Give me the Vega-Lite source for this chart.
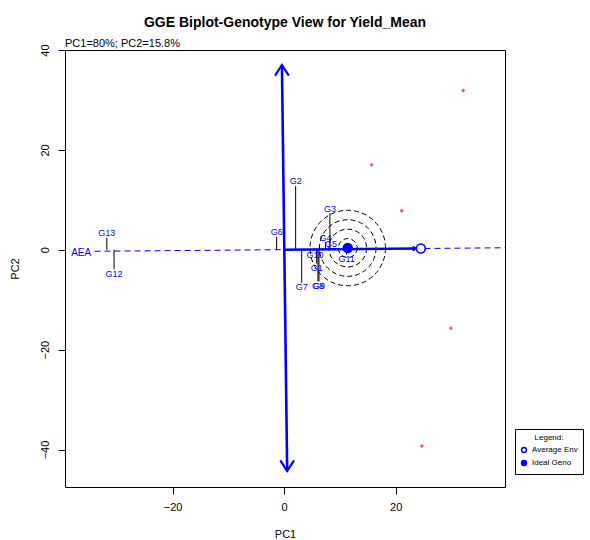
{
  "$schema": "https://vega.github.io/schema/vega-lite/v6.json",
  "autosize": {"type": "none"},
  "padding": {"left": 65, "top": 50, "right": 85, "bottom": 53},
  "width": 440,
  "height": 437,
  "background": "white",
  "config": {
    "view": {"stroke": "black", "strokeWidth": 1},
    "font": "Liberation Sans",
    "axis": {
      "grid": false,
      "domain": false,
      "ticks": true,
      "tickColor": "black",
      "tickSize": 7,
      "labelFont": "Liberation Sans",
      "labelFontSize": 11,
      "labelColor": "black",
      "titleFont": "Liberation Sans",
      "titleFontSize": 11,
      "titleFontWeight": "normal",
      "titleColor": "black"
    }
  },
  "title": {
    "text": "GGE Biplot-Genotype View for Yield_Mean",
    "frame": "group",
    "anchor": "middle",
    "offset": 8,
    "fontSize": 14,
    "font": "Liberation Sans",
    "fontWeight": "bold",
    "color": "black"
  },
  "datasets": {
    "genotypes": [
      {"g": "G1", "PC1": 5.83, "PC2": -2.8},
      {"g": "G2", "PC1": 2.06, "PC2": 12.8},
      {"g": "G3", "PC1": 8.2, "PC2": 7.3},
      {"g": "G4", "PC1": 7.4, "PC2": 1.5},
      {"g": "G5", "PC1": 8.4, "PC2": 0.3},
      {"g": "G6", "PC1": -1.35, "PC2": 2.6},
      {"g": "G7", "PC1": 3.14, "PC2": -6.6},
      {"g": "G8", "PC1": 6.06, "PC2": -6.35},
      {"g": "G9", "PC1": 6.24, "PC2": -6.35},
      {"g": "G10", "PC1": 5.52, "PC2": -0.1},
      {"g": "G11", "PC1": 11.2, "PC2": -1.0},
      {"g": "G12", "PC1": -30.5, "PC2": -3.9},
      {"g": "G13", "PC1": -31.8, "PC2": 2.4}
    ],
    "envs": [
      {"PC1": 32.1, "PC2": 31.9},
      {"PC1": 15.7, "PC2": 17.0},
      {"PC1": 21.1, "PC2": 7.8},
      {"PC1": 29.9, "PC2": -15.7},
      {"PC1": 24.7, "PC2": -39.3}
    ],
    "aea": [
      {"PC1": -34.0, "PC2": -0.3, "PC1b": 39.6, "PC2b": 0.4}
    ],
    "blueaxes": [
      {"PC1": -0.4, "PC2": 37.0, "PC1b": 0.54, "PC2b": -44.3},
      {"PC1": 0, "PC2": 0, "PC1b": 23.6, "PC2b": 0.25}
    ],
    "markers": [
      {"type": "Average Env", "PC1": 24.5, "PC2": 0.25},
      {"type": "Ideal Geno", "PC1": 11.4, "PC2": 0.35}
    ],
    "rings": [
      {"ring": 1, "PC1": 11.4, "PC2": 0.35},
      {"ring": 2, "PC1": 11.4, "PC2": 0.35},
      {"ring": 3, "PC1": 11.4, "PC2": 0.35},
      {"ring": 4, "PC1": 11.4, "PC2": 0.35}
    ]
  },
  "encoding": {
    "x": {
      "field": "PC1",
      "type": "quantitative",
      "scale": {"domain": [-39.3, 39.6], "nice": false, "zero": false},
      "axis": {"values": [-20, 0, 20], "title": "PC1", "labelPadding": 7, "titlePadding": 16}
    },
    "y": {
      "field": "PC2",
      "type": "quantitative",
      "scale": {"domain": [-47.5, 40], "nice": false, "zero": false},
      "axis": {"values": [-40, -20, 0, 20, 40], "title": "PC2", "labelAngle": -90, "labelAlign": "center", "labelBaseline": "bottom", "labelPadding": 8, "titlePadding": 19}
    }
  },
  "layer": [
    {
      "data": {"name": "aea"},
      "mark": {"type": "rule", "color": "blue", "strokeWidth": 1, "strokeDash": [6, 4]},
      "encoding": {"x2": {"field": "PC1b"}, "y2": {"field": "PC2b"}}
    },
    {
      "data": {"name": "rings"},
      "mark": {"type": "point", "shape": "circle", "filled": false, "stroke": "black", "strokeWidth": 1, "strokeDash": [5, 3], "opacity": 1},
      "encoding": {
        "size": {"field": "ring", "type": "quantitative", "scale": {"type": "pow", "exponent": 2, "domain": [0, 4], "range": [0, 5700]}, "legend": null}
      }
    },
    {
      "data": {"name": "genotypes"},
      "mark": {"type": "rule", "color": "black", "strokeWidth": 1},
      "encoding": {"y2": {"datum": 0}}
    },
    {
      "data": {"name": "blueaxes"},
      "mark": {"type": "rule", "color": "blue", "strokeWidth": 2.6},
      "encoding": {"x2": {"field": "PC1b"}, "y2": {"field": "PC2b"}}
    },
    {
      "data": {"values": [{"PC1": -0.4, "PC2": 37.0}]},
      "mark": {"type": "point", "shape": "M-0.65,1L0,0L0.65,1", "filled": false, "stroke": "blue", "strokeWidth": 2.2, "size": 450, "angle": 0, "opacity": 1}
    },
    {
      "data": {"values": [{"PC1": 0.54, "PC2": -44.3}]},
      "mark": {"type": "point", "shape": "M-0.65,1L0,0L0.65,1", "filled": false, "stroke": "blue", "strokeWidth": 2.2, "size": 450, "angle": 180, "opacity": 1}
    },
    {
      "data": {"values": [{"PC1": 23.6, "PC2": 0.25}]},
      "mark": {"type": "point", "shape": "M-0.65,1L0,0L0.65,1", "filled": false, "stroke": "blue", "strokeWidth": 2, "size": 40, "angle": 90, "opacity": 1}
    },
    {
      "data": {"name": "envs"},
      "mark": {"type": "point", "shape": "cross", "filled": true, "color": "#ff3030", "size": 12, "opacity": 0.9}
    },
    {
      "data": {"name": "markers"},
      "mark": {"type": "point", "shape": "circle", "stroke": "blue", "strokeWidth": 1.6, "size": 80, "opacity": 1},
      "encoding": {
        "fill": {
          "field": "type",
          "type": "nominal",
          "scale": {"domain": ["Average Env", "Ideal Geno"], "range": ["white", "blue"]},
          "legend": {
            "title": "Legend:",
            "orient": "none",
            "legendX": 450,
            "legendY": 379,
            "strokeColor": "black",
            "fillColor": "white",
            "padding": 5,
            "titleFont": "Liberation Sans",
            "titleFontSize": 8,
            "titleFontWeight": "normal",
            "titleAnchor": "middle",
            "titlePadding": 4,
            "labelFont": "Liberation Sans",
            "labelFontSize": 8,
            "labelColor": "black",
            "symbolType": "circle",
            "symbolSize": 24,
            "symbolStrokeColor": "blue",
            "symbolStrokeWidth": 1.5,
            "rowPadding": 1,
            "labelOffset": 4
          }
        }
      }
    },
    {
      "data": {"name": "genotypes"},
      "transform": [{"filter": "datum.PC2 >= 0"}],
      "mark": {"type": "text", "color": "blue", "fontSize": 9, "font": "Liberation Sans", "baseline": "middle", "dy": -4.5},
      "encoding": {"text": {"field": "g"}}
    },
    {
      "data": {"name": "genotypes"},
      "transform": [{"filter": "datum.PC2 < 0"}],
      "mark": {"type": "text", "color": "blue", "fontSize": 9, "font": "Liberation Sans", "baseline": "middle", "dy": 4.5},
      "encoding": {"text": {"field": "g"}}
    },
    {
      "data": {"values": [{"label": "AEA", "PC1": -36.4, "PC2": -0.55}]},
      "mark": {"type": "text", "color": "blue", "fontSize": 10, "font": "Liberation Sans", "baseline": "middle", "align": "center"},
      "encoding": {"text": {"field": "label"}}
    },
    {
      "data": {"values": [{"label": "PC1=80%; PC2=15.8%", "PC1": -39.3, "PC2": 40}]},
      "mark": {"type": "text", "color": "black", "fontSize": 11, "font": "Liberation Sans", "baseline": "bottom", "align": "left", "dy": -1},
      "encoding": {"text": {"field": "label"}}
    }
  ]
}
